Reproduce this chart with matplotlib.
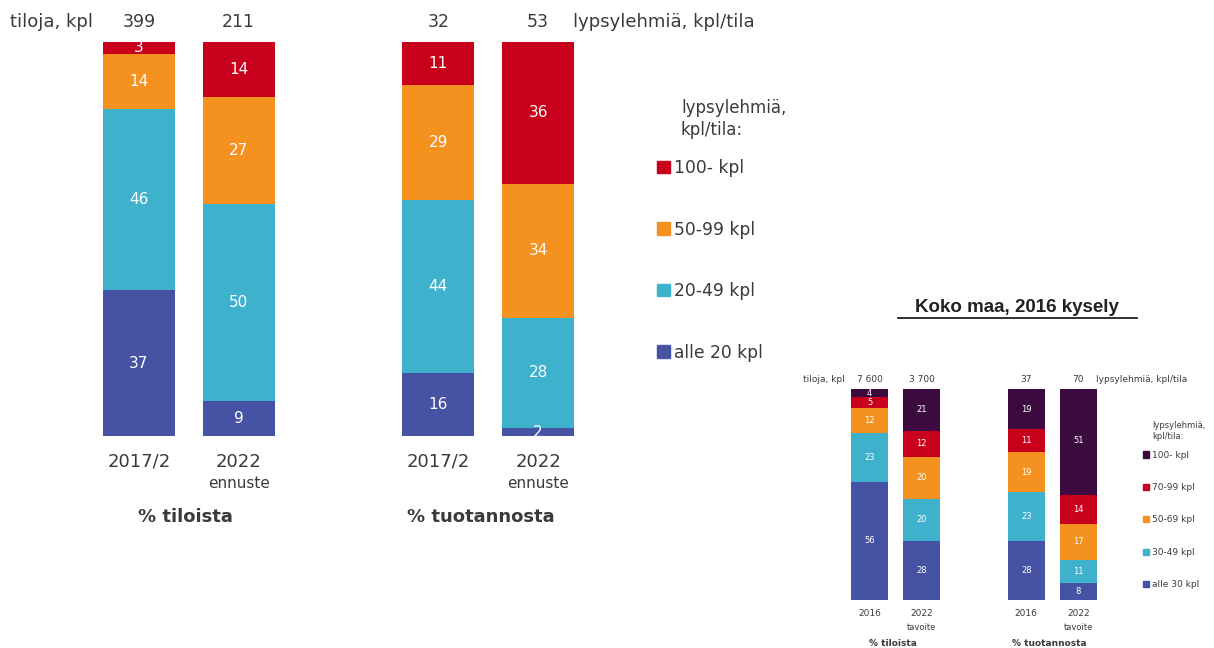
import matplotlib
matplotlib.use("Agg")
import matplotlib.pyplot as plt
from matplotlib.lines import Line2D
from matplotlib.patches import Patch

plt.rcParams["font.family"] = ["DejaVu Sans"]

# STEP 1 - data

# main chart: kysely 2017/2 and 2022 forecast
main_cats = ["2017/2", "2022", "2017/2", "2022"]
main_sub = ["", "ennuste", "", "ennuste"]
main_totals = ["399", "211", "32", "53"]
main_groups = ["% tiloista", "% tuotannosta"]
main_series = ["alle 20 kpl", "20-49 kpl", "50-99 kpl", "100- kpl"]
main_alle20 = [37, 9, 16, 2]
main_20_49 = [46, 50, 44, 28]
main_50_99 = [14, 27, 29, 34]
main_100 = [3, 14, 11, 36]

# small chart: Koko maa, 2016 kysely
small_cats = ["2016", "2022", "2016", "2022"]
small_sub = ["", "tavoite", "", "tavoite"]
small_totals = ["7 600", "3 700", "37", "70"]
small_groups = ["% tiloista", "% tuotannosta"]
small_series = ["alle 30 kpl", "30-49 kpl", "50-69 kpl", "70-99 kpl", "100- kpl"]
small_alle30 = [56, 28, 28, 8]
small_30_49 = [23, 20, 23, 11]
small_50_69 = [12, 20, 19, 17]
small_70_99 = [5, 12, 11, 14]
small_100 = [4, 21, 19, 51]

blue = "#4652A4"
cyan = "#3EB1CD"
orange = "#F5921F"
red = "#C8001C"
purple = "#3D0A3F"
grey = "#3A3A3A"

W, H = 1214, 648
fig = plt.figure(figsize=(W / 100, H / 100), dpi=100)


def px_axes(x0, y0, x1, y1):
    return fig.add_axes([x0 / W, 1 - y1 / H, (x1 - x0) / W, (y1 - y0) / H])


def fig_text(x, y, s, **kw):
    return fig.text(x / W, 1 - y / H, s, **kw)


def stacked(ax, xpos, series, colors, width, fs):
    bottom = [0] * len(xpos)
    for vals, col in zip(series, colors):
        ax.bar(xpos, vals, width, bottom=bottom, color=col, linewidth=0)
        for x, b, v in zip(xpos, bottom, vals):
            ax.text(x, b + v / 2, str(v), ha="center", va="center",
                    color="white", fontsize=fs)
        bottom = [b + v for b, v in zip(bottom, vals)]
    return bottom


def under(ax, x, s, dy_px, fs, weight="normal"):
    # text under the axes, dy in pixels
    ax.annotate(s, xy=(x, 0), xycoords=("data", "axes fraction"),
                xytext=(0, -dy_px * 0.72), textcoords="offset points",
                ha="center", va="center", fontsize=fs, color=grey,
                fontweight=weight)


def over(ax, x, s, dy_px, fs):
    ax.annotate(s, xy=(x, 1), xycoords=("data", "axes fraction"),
                xytext=(0, dy_px * 0.72), textcoords="offset points",
                ha="center", va="center", fontsize=fs, color=grey)


xpos = [0, 1, 3, 4]

# STEP 2 - main chart
ax = px_axes(103, 42, 574, 436)
stacked(ax, xpos, [main_alle20, main_20_49, main_50_99, main_100],
        [blue, cyan, orange, red], 0.72, 11)
ax.set_xlim(-0.36, 4.36)
ax.set_ylim(0, 100)
ax.axis("off")

for x, c, s, t in zip(xpos, main_cats, main_sub, main_totals):
    under(ax, x, c, 26, 13)
    if s:
        under(ax, x, s, 47, 11)
    over(ax, x, t, 20, 12.5)
under(ax, 0.47, main_groups[0], 81, 13, "bold")
under(ax, 3.43, main_groups[1], 81, 13, "bold")

fig_text(10, 22, "tiloja, kpl", fontsize=13, color=grey, va="center")
fig_text(573, 22, "lypsylehmiä, kpl/tila", fontsize=13, color=grey, va="center")

fig_text(681, 119, "lypsylehmiä,\nkpl/tila:", fontsize=12, color=grey,
         va="center", linespacing=1.3)
handles = [Patch(color=c) for c in [red, orange, cyan, blue]]
fig.legend(handles, main_series[::-1], loc="upper left",
           bbox_to_anchor=(657 / W, 1 - 159 / H), frameon=False,
           fontsize=12.3, handlelength=0.75, handleheight=0.75,
           handletextpad=0.25, labelspacing=2.55, borderpad=0,
           borderaxespad=0, labelcolor=grey)

# STEP 3 - small chart
fig_text(1017, 307, "Koko maa, 2016 kysely", fontsize=13.5, fontweight="bold",
         family="Liberation Sans", color="#222222", ha="center", va="center")
fig.add_artist(Line2D([898 / W, 1137 / W], [1 - 318 / H, 1 - 318 / H],
                      color="#222222", linewidth=1.3))

ax2 = px_axes(851, 389, 1097, 600)
stacked(ax2, xpos, [small_alle30, small_30_49, small_50_69, small_70_99, small_100],
        [blue, cyan, orange, red, purple], 0.71, 6)
ax2.set_xlim(-0.355, 4.355)
ax2.set_ylim(0, 100)
ax2.axis("off")

for x, c, s, t in zip(xpos, small_cats, small_sub, small_totals):
    under(ax2, x, c, 13, 6.5)
    if s:
        under(ax2, x, s, 27, 6)
    over(ax2, x, t, 10, 6.5)
under(ax2, 0.45, small_groups[0], 43, 6.5, "bold")
under(ax2, 3.45, small_groups[1], 43, 6.5, "bold")

fig_text(803, 379, "tiloja, kpl", fontsize=6.5, color=grey, va="center")
fig_text(1096, 379, "lypsylehmiä, kpl/tila", fontsize=6.5, color=grey, va="center")

fig_text(1152, 431, "lypsylehmiä,\nkpl/tila:", fontsize=6, color=grey,
         va="center", linespacing=1.4)
handles2 = [Patch(color=c) for c in [purple, red, orange, cyan, blue]]
fig.legend(handles2, small_series[::-1], loc="upper left",
           bbox_to_anchor=(1143 / W, 1 - 450.5 / H), frameon=False,
           fontsize=6.5, handlelength=0.7, handleheight=0.7,
           handletextpad=0.3, labelspacing=2.6, borderpad=0,
           borderaxespad=0, labelcolor=grey)

# STEP 4 - save
plt.savefig("out.png", dpi=100)
